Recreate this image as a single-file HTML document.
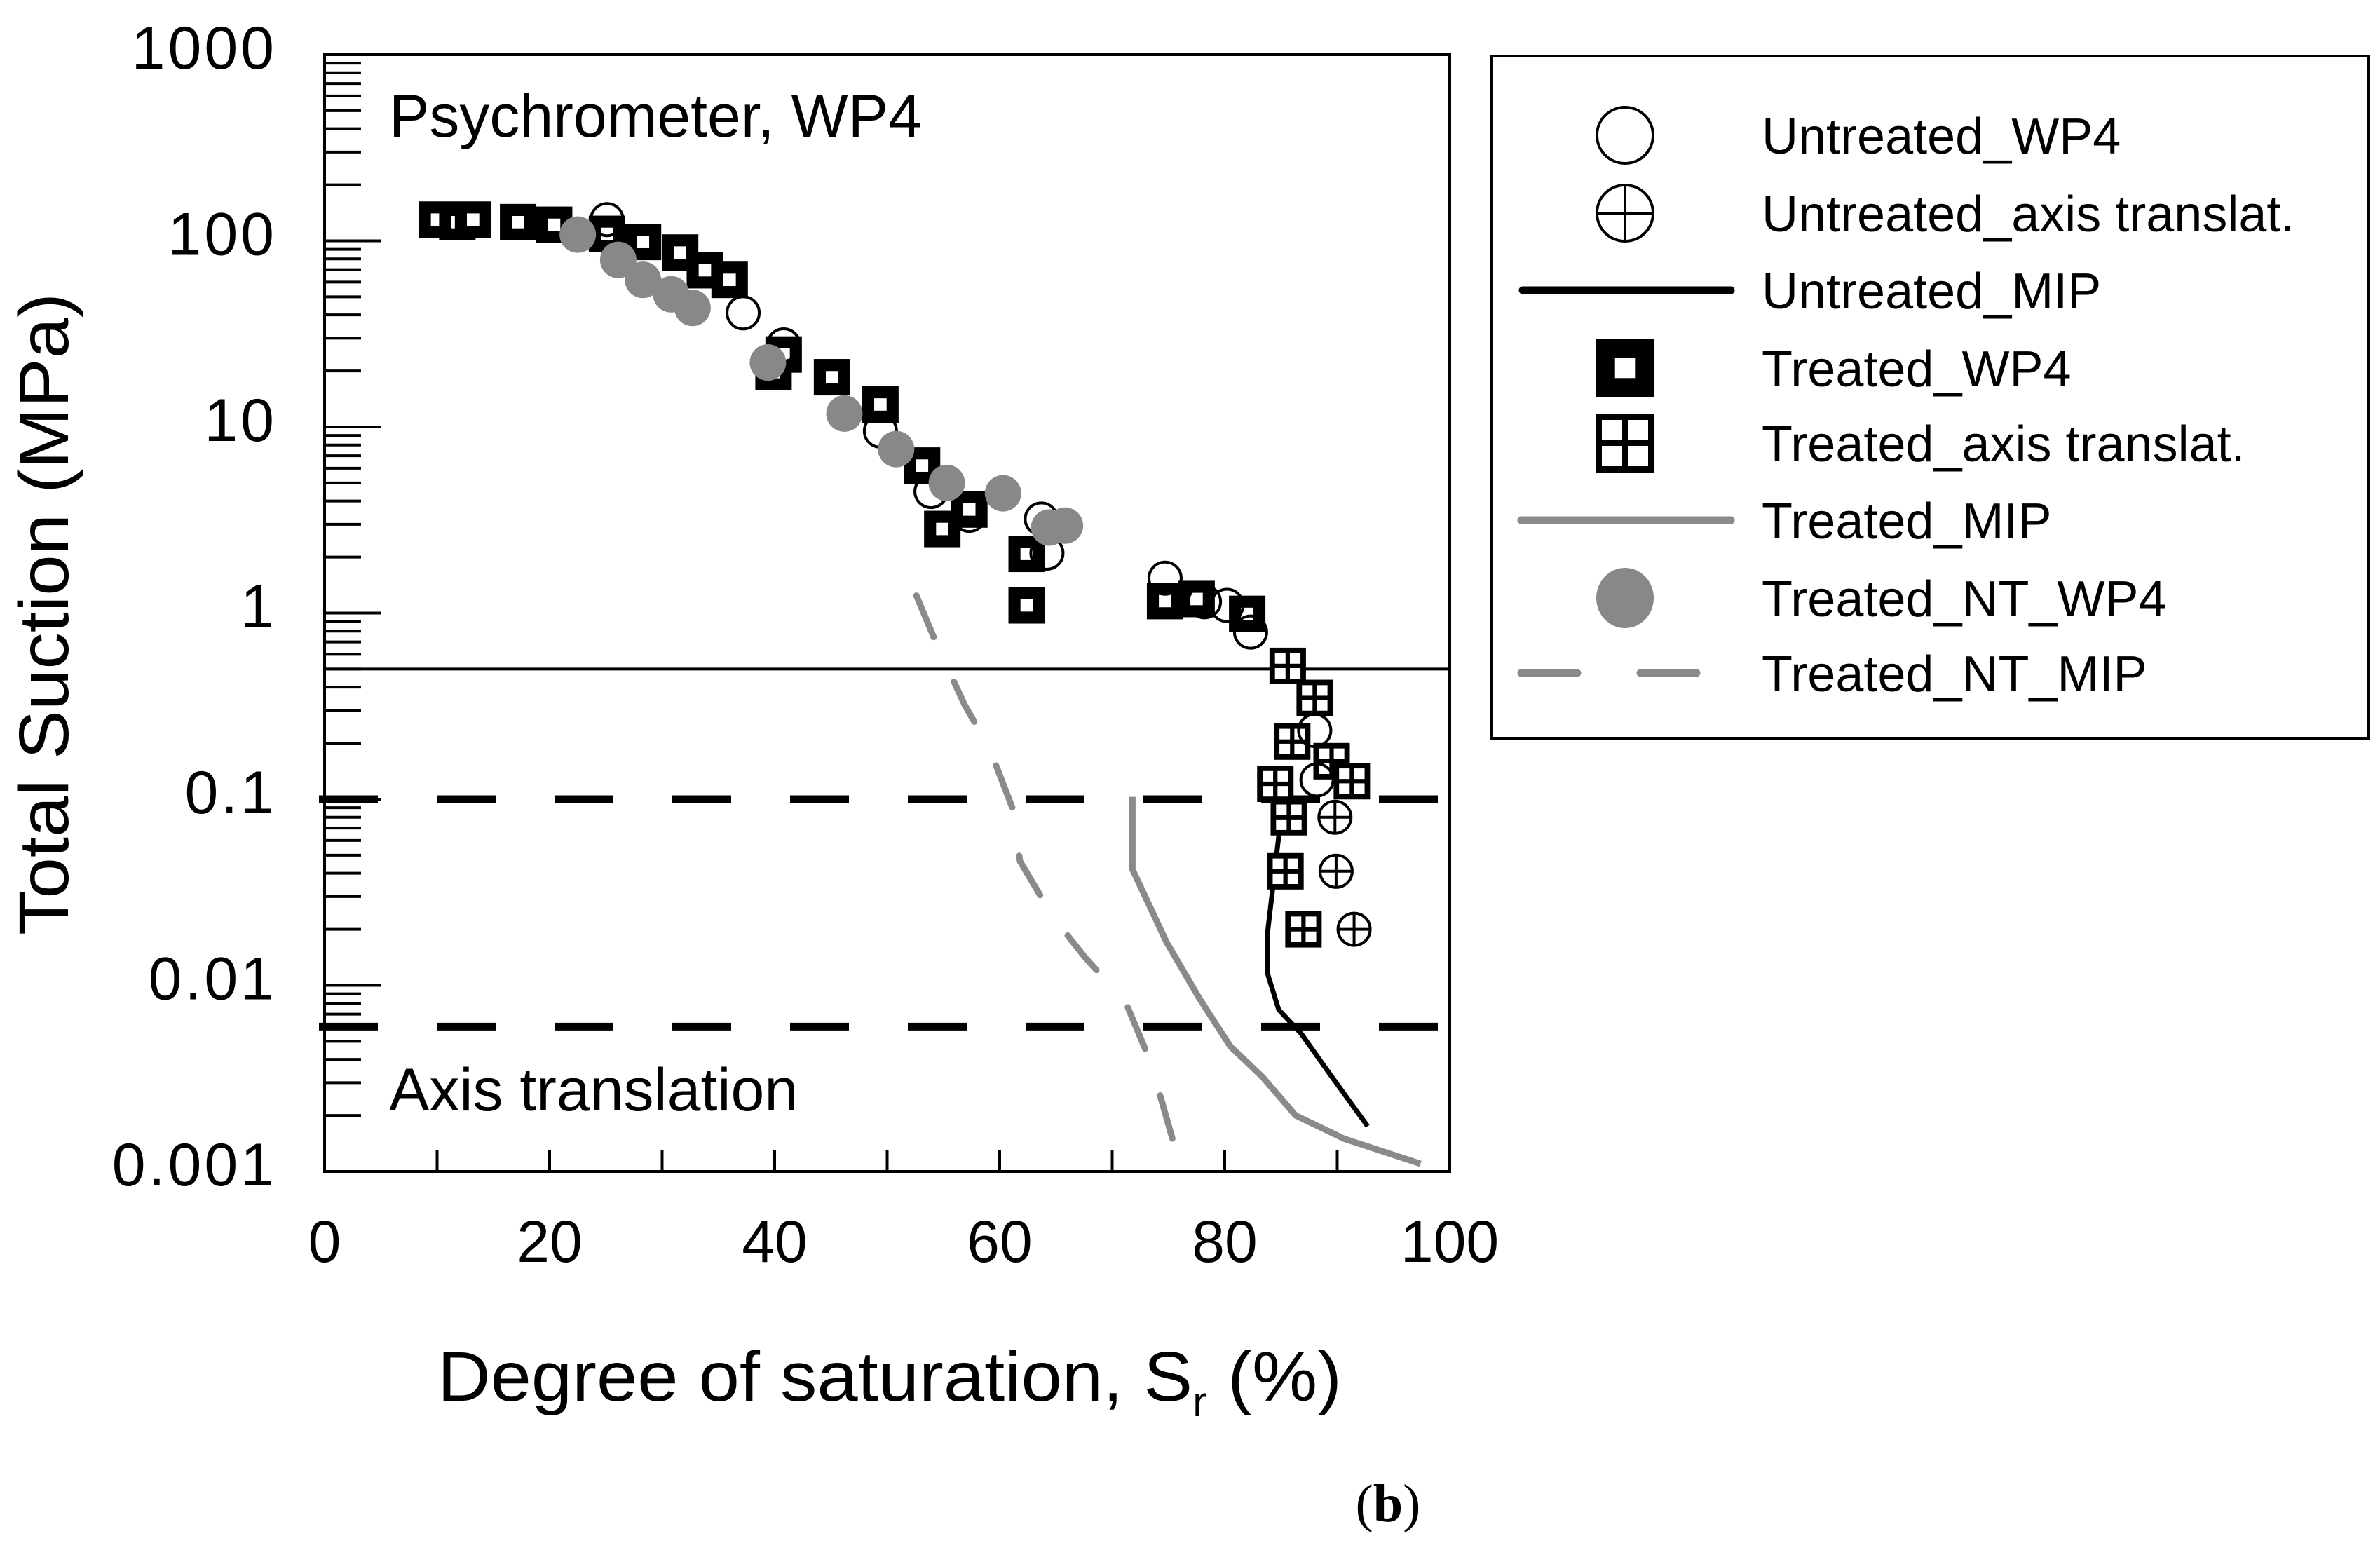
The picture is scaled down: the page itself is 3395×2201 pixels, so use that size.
<!DOCTYPE html>
<html><head><meta charset="utf-8"><style>
html,body{margin:0;padding:0;background:#fff;}
svg{display:block;font-family:"Liberation Sans",Arial,sans-serif;}
</style></head><body>
<svg id="chart" width="3395" height="2201" viewBox="0 0 3395 2201" xmlns="http://www.w3.org/2000/svg">
<rect x="0" y="0" width="3395" height="2201" fill="#fff"/>
<g id="grid"></g>
<g id="series"></g>
<rect x="463" y="78" width="1605" height="1593" fill="none" stroke="#000" stroke-width="4"/>
<g id="axes"></g>
<text x="555" y="195" font-size="86">Psychrometer, WP4</text>
<text x="555" y="1584" font-size="86">Axis translation</text>
<text transform="translate(97,876) rotate(-90)" text-anchor="middle" font-size="100" textLength="916" lengthAdjust="spacingAndGlyphs">Total Suction (MPa)</text>
<text x="624" y="1998" font-size="100" textLength="1290" lengthAdjust="spacingAndGlyphs">Degree of saturation, S<tspan font-size="60" dy="22">r</tspan><tspan dy="-22"> (%)</tspan></text>
<text x="1980" y="2170" text-anchor="middle" font-size="76" font-family="Liberation Serif, serif">(<tspan font-weight="bold">b</tspan>)</text>
<g id="legend">
<rect x="2128" y="80" width="1251" height="973" fill="none" stroke="#000" stroke-width="4"/>
</g>
</svg>
<script>
const xTicks=[0,20,40,60,80,100];
const yTicks=[0.001,0.01,0.1,1,10,100,1000];
const yTickLabels=["0.001","0.01","0.1","1","10","100","1000"];
const untreatedWP4X=[25.1,37.2,40.8,49.4,53.9,57.3,63.7,64.2,74.7,78.2,80.2,82.3,88.0,88.2];
const untreatedWP4Y=[130,41,27.6,9.5,4.5,3.35,3.2,2.1,1.54,1.15,1.1,0.79,0.234,0.127];
const untreatedATX=[89.8,89.9,91.5];
const untreatedATY=[0.080,0.041,0.020];
const untreatedMIPX=[85.4,84.8,84.3,83.8,83.8,84.8,86.8,89.1,92.7];
const untreatedMIPY=[0.103,0.063,0.0345,0.019,0.0116,0.0074,0.0055,0.0035,0.00175];
const treatedWP4X=[10.0,11.8,13.2,17.2,20.4,25.1,28.3,31.6,33.8,36.0,39.9,40.8,45.1,49.4,53.1,54.9,57.3,62.4,62.4,74.7,77.5,82.0];
const treatedWP4Y=[130,126,130,126,122,109,98.6,86.5,69.5,61.7,19.7,24.5,18.5,13.2,6.2,2.83,3.6,2.08,1.1,1.16,1.19,0.99];
const treatedATX=[85.6,88.0,86.0,89.5,84.5,91.3,85.7,85.4,87.0];
const treatedATY=[0.52,0.35,0.204,0.16,0.121,0.125,0.080,0.041,0.020];
const treatedMIPX=[71.8,71.8,74.8,77.7,80.5,83.4,86.3,90.6,97.4];
const treatedMIPY=[0.103,0.042,0.0172,0.0086,0.0047,0.0032,0.002,0.0015,0.0011];
const ntWP4X=[22.5,26.1,28.3,30.8,32.7,39.4,46.2,50.8,55.3,60.3,64.4,65.8];
const ntWP4Y=[108,79,61.7,51.6,43.6,22.2,11.8,7.6,5.0,4.4,2.88,2.95];
const ntMIPX=[52.6,54.4,56.9,59.1,61.3,61.8,64.8,67.6,71.2,73.4,76.1];
const ntMIPY=[1.24,0.68,0.32,0.187,0.0845,0.0465,0.023,0.0141,0.0081,0.0039,0.00104];
const refSolid=[0.5];
const refDashed=[0.1,0.006];
const legendLabels=["Untreated_WP4","Untreated_axis translat.","Untreated_MIP","Treated_WP4","Treated_axis translat.","Treated_MIP","Treated_NT_WP4","Treated_NT_MIP"];

const NS="http://www.w3.org/2000/svg";
const L=463,R=2068,T=78,B=1671;
function sx(v){return L+(v/100)*(R-L);}
function sy(v){return T+(3-Math.log10(v))*(B-T)/6;}
function mk(tag,attrs,parent){const e=document.createElementNS(NS,tag);for(const k in attrs)e.setAttribute(k,attrs[k]);parent.appendChild(e);return e;}
const axes=document.getElementById('axes'),grid=document.getElementById('grid'),ser=document.getElementById('series'),leg=document.getElementById('legend');

for(let d=-3;d<3;d++){for(let m=1;m<10;m++){const v=m*Math.pow(10,d);const y=sy(v);
 const t=mk('line',{x1:L,x2:L+(m===1?80:52),y1:y,y2:y,stroke:'#000','stroke-width':4},axes);
 
 }}
yTicks.forEach((v,i)=>{const t=mk('text',{x:395,y:sy(v)+20,'text-anchor':'end','font-size':86,'letter-spacing':'4'},axes);t.textContent=yTickLabels[i];
 
 });
for(let v=10;v<100;v+=10){const t=mk('line',{x1:sx(v),x2:sx(v),y1:B,y2:B-30,stroke:'#000','stroke-width':4},axes);
 
 }
xTicks.forEach(v=>{const t=mk('text',{x:sx(v),y:1800,'text-anchor':'middle','font-size':84},axes);t.textContent=String(v);
 
 });
refSolid.forEach(v=>{const l=mk('line',{x1:L,x2:R,y1:sy(v),y2:sy(v),stroke:'#000','stroke-width':4},grid);
 
 });
refDashed.forEach(v=>{const l=mk('line',{x1:455,x2:R-4,y1:sy(v),y2:sy(v),stroke:'#000','stroke-width':11,'stroke-dasharray':'84 84'},grid);
 
 });

function poly(xs,ys){return xs.map((x,i)=>sx(x)+','+sy(ys[i])).join(' ');}
function drawCircle(g,cx,cy,r,cross){mk('circle',{cx,cy,r,fill:'none',stroke:'#000','stroke-width':4},g);
 if(cross){mk('line',{x1:cx-r,x2:cx+r,y1:cy,y2:cy,stroke:'#000','stroke-width':4},g);mk('line',{x1:cx,x2:cx,y1:cy-r,y2:cy+r,stroke:'#000','stroke-width':4},g);}}
function drawSqWP4(g,cx,cy,s){mk('rect',{x:cx-s/2,y:cy-s/2,width:s,height:s,fill:'#000'},g);const w=s*0.34;mk('rect',{x:cx-w/2,y:cy-w/2,width:w,height:w,fill:'#fff'},g);}
function drawSqAT(g,cx,cy,s){mk('rect',{x:cx-s/2,y:cy-s/2,width:s,height:s,fill:'#000'},g);const b=s*0.15,gp=s*0.12,c=(s-2*b-gp)/2;
 for(const i of [0,1])for(const j of [0,1])mk('rect',{x:cx-s/2+b+i*(c+gp),y:cy-s/2+b+j*(c+gp),width:c,height:c,fill:'#fff'},g);}

let g;
g=mk('g',{},ser);
mk('polyline',{points:poly(untreatedMIPX,untreatedMIPY),fill:'none',stroke:'#000','stroke-width':7,'stroke-linejoin':'round'},g);
g=mk('g',{},ser);
mk('polyline',{points:poly(treatedMIPX,treatedMIPY),fill:'none',stroke:'#8a8a8a','stroke-width':9,'stroke-linejoin':'round'},g);
g=mk('g',{},ser);
mk('polyline',{points:poly(ntMIPX,ntMIPY),fill:'none',stroke:'#8a8a8a','stroke-width':9,'stroke-dasharray':'64 70','stroke-linecap':'round'},g);
g=mk('g',{},ser);
treatedWP4X.forEach((x,i)=>drawSqWP4(g,sx(x),sy(treatedWP4Y[i]),52));
g=mk('g',{},ser);
treatedATX.forEach((x,i)=>drawSqAT(g,sx(x),sy(treatedATY[i]),52));
g=mk('g',{},ser);
untreatedWP4X.forEach((x,i)=>drawCircle(g,sx(x),sy(untreatedWP4Y[i]),23,false));
g=mk('g',{},ser);
untreatedATX.forEach((x,i)=>drawCircle(g,sx(x),sy(untreatedATY[i]),23,true));
g=mk('g',{},ser);
ntWP4X.forEach((x,i)=>mk('circle',{cx:sx(x),cy:sy(ntWP4Y[i]),r:26,fill:'#888'},g));

const rowY=[193,304,414,525,632,742,853,960];const sxL=2318;
legendLabels.forEach((lab,i)=>{const e=mk('g',{},leg);
 
 
 const y=rowY[i];
 if(i===0)drawCircle(e,sxL,y,40,false);
 if(i===1)drawCircle(e,sxL,y,40,true);
 if(i===2)mk('line',{x1:2172,x2:2469,y1:y,y2:y,stroke:'#000','stroke-width':11,'stroke-linecap':'round'},e);
 if(i===3)drawSqWP4(e,sxL,y,84);
 if(i===4){mk('rect',{x:sxL-42,y:y-42,width:84,height:84,fill:'#000'},e);for(const a of [0,1])for(const b of [0,1])mk('rect',{x:sxL-33+a*37,y:y-33+b*37,width:29,height:29,fill:'#fff'},e);}
 if(i===5)mk('line',{x1:2170,x2:2469,y1:y,y2:y,stroke:'#8a8a8a','stroke-width':11,'stroke-linecap':'round'},e);
 if(i===6)mk('ellipse',{cx:sxL,cy:y,rx:41,ry:43,fill:'#888'},e);
 if(i===7){mk('line',{x1:2170,x2:2250,y1:y,y2:y,stroke:'#8a8a8a','stroke-width':11,'stroke-linecap':'round'},e);mk('line',{x1:2340,x2:2420,y1:y,y2:y,stroke:'#8a8a8a','stroke-width':11,'stroke-linecap':'round'},e);}
 const t=mk('text',{x:2513,y:y+26,'font-size':72},e);t.textContent=lab;});
</script>
</body></html>
